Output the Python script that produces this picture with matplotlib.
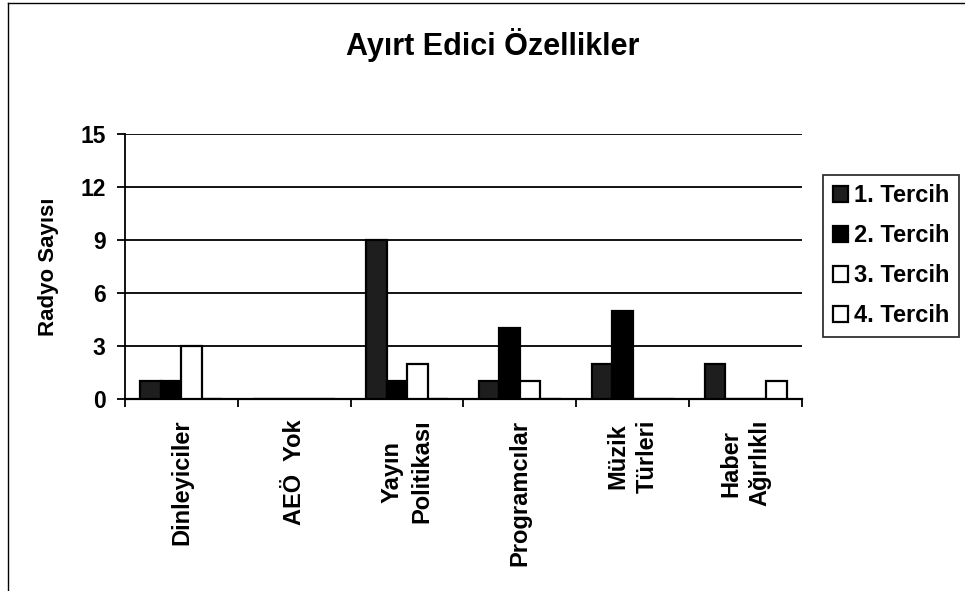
import numpy as np
import matplotlib.pyplot as plt
from matplotlib.lines import Line2D

plt.rcParams['font.family'] = ['Liberation Sans', 'DejaVu Sans']
plt.rcParams['font.weight'] = 'bold'

categories = ['Dinleyiciler', 'AEÖ  Yok', 'Yayın\nPolitikası', 'Programcılar',
              'Müzik\nTürleri', 'Haber\nAğırlıklı']
series_names = ['1. Tercih', '2. Tercih', '3. Tercih', '4. Tercih']
tercih1 = [1, 0, 9, 1, 2, 2]
tercih2 = [1, 0, 1, 4, 5, 0]
tercih3 = [3, 0, 2, 1, 0, 0]
tercih4 = [0, 0, 0, 0, 0, 1]
yticks = [0, 3, 6, 9, 12, 15]

faces = ['#1e1e1e', '#000000', 'white', 'white']

fig = plt.figure(figsize=(9.65, 5.91), dpi=100)
ax = fig.add_axes([0.1295, 0.3249, 0.7016, 0.4484])

x = np.arange(len(categories))
w = 1 / 5.5
for i, vals in enumerate([tercih1, tercih2, tercih3, tercih4]):
    ax.bar(x + (i - 1.5) * w, vals, width=w, color=faces[i],
           edgecolor='black', linewidth=1.6, zorder=3, label=series_names[i])

ax.set_xlim(-0.5, len(categories) - 0.5)
ax.set_ylim(0, 15)
ax.set_yticks(yticks)
ax.set_yticklabels([str(t) for t in yticks], fontsize=16.5, fontweight='bold')
ax.yaxis.grid(True, color='black', linewidth=1.3, zorder=0)
ax.set_xticks(x)
ax.set_xticklabels(categories, rotation=90, fontsize=17, fontweight='bold',
                   linespacing=1.35)
ax.set_xticks(np.arange(len(categories) + 1) - 0.5, minor=True)
ax.tick_params(axis='x', which='major', length=0, pad=15)
ax.tick_params(axis='x', which='minor', length=6, width=1.3, direction='out')
ax.tick_params(axis='y', length=6, width=1.3, direction='out', pad=8)
for s in ['top', 'right']:
    ax.spines[s].set_visible(False)
ax.spines['left'].set_linewidth(1.3)
ax.spines['bottom'].set_linewidth(1.6)
ax.set_ylabel('Radyo Sayısı', fontsize=16, fontweight='bold', labelpad=15)

fig.text(0.511, 0.924, 'Ayırt Edici Özellikler', ha='center', va='center',
         fontsize=22, fontweight='bold')

leg = ax.legend(loc='upper left', bbox_to_anchor=(0.853, 0.704),
                bbox_transform=fig.transFigure, fontsize=17, frameon=True,
                fancybox=False, edgecolor='black', handlelength=0.65,
                handleheight=0.65, handletextpad=0.25, labelspacing=0.72,
                borderpad=0.4, borderaxespad=0)
leg.get_frame().set_linewidth(1.3)

# outer chart frame (left and top edges visible in the scan)
fig.add_artist(Line2D([0.008, 0.008], [0.0, 0.995], color='black', lw=1.0,
                      transform=fig.transFigure))
fig.add_artist(Line2D([0.008, 1.0], [0.995, 0.995], color='black', lw=1.0,
                      transform=fig.transFigure))

fig.savefig('out.png', dpi=100)
